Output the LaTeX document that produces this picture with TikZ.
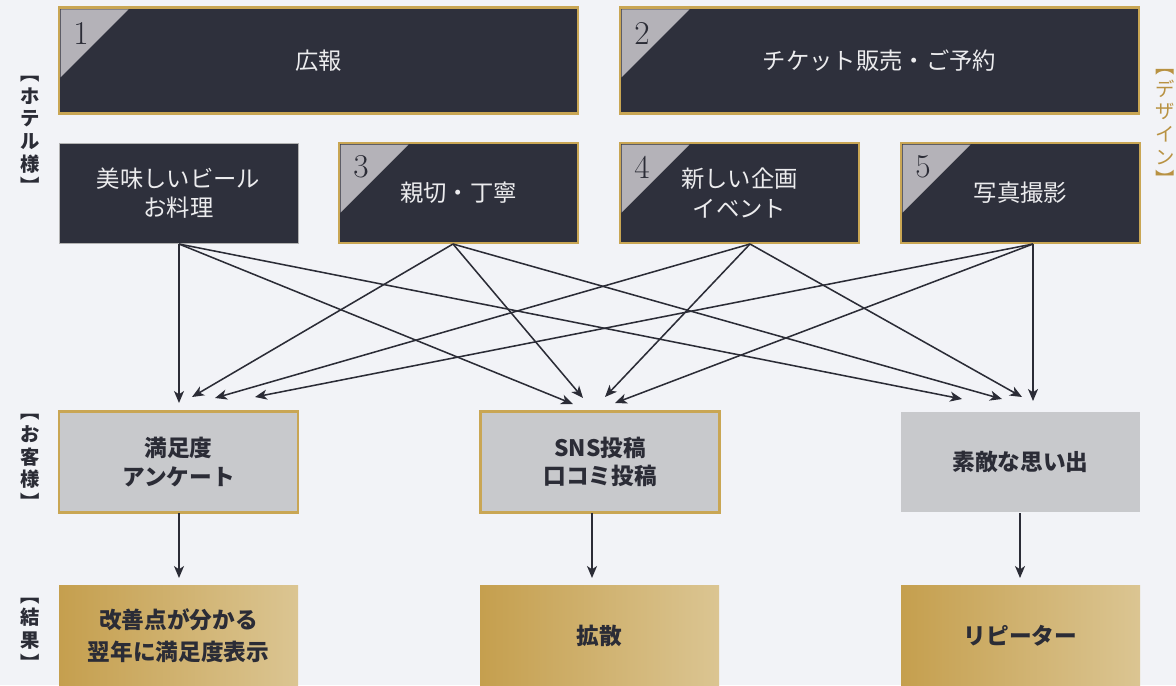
\documentclass[tikz,border=0pt]{standalone}
\usepackage{fontspec}
\newfontfamily\jp{Noto Sans CJK JP}
\usetikzlibrary{arrows.meta}

\definecolor{navy}{RGB}{46,48,60}
\definecolor{gold}{RGB}{201,166,84}
\definecolor{goldL}{RGB}{197,159,78}
\definecolor{goldR}{RGB}{219,197,146}
\definecolor{grayfill}{RGB}{200,201,204}
\definecolor{tri}{RGB}{180,178,184}
\definecolor{ink}{RGB}{43,44,54}
\definecolor{bg}{RGB}{242,243,247}
\definecolor{labgold}{RGB}{184,146,66}
\definecolor{whitetext}{RGB}{236,236,238}

\begin{document}
\begin{tikzpicture}[x=0.75pt,y=-0.75pt,
 box/.style={rectangle, inner sep=0pt, outer sep=0pt, minimum width=179.25pt, minimum height=75pt, align=center, font=\jp\fontsize{17.5}{22}\selectfont},
 widebox/.style={box, minimum width=389.25pt, minimum height=79pt},
 darkbox/.style={fill=navy, text=whitetext},
 goldframe/.style={draw=gold, line width=2pt},
 plainframe/.style={draw=gray!60, line width=0.6pt},
 graybox/.style={fill=grayfill, text=ink, font=\jp\bfseries\fontsize{17}{21.5}\selectfont},
 resbox/.style={left color=goldL, right color=goldR, text=ink, font=\jp\bfseries\fontsize{17}{24}\selectfont},
 corner/.style={fill=tri},
 numlbl/.style={text=ink, font=\fontsize{25}{25}\selectfont, inner sep=0pt},
 vlabel/.style={align=center, inner sep=0pt, text=ink, font=\jp\bfseries\fontsize{14.5}{17}\selectfont},
 link/.style={draw=ink, line width=1.15pt, -{Stealth[length=9pt,width=7.5pt,inset=2.5pt]}},
]
\fill[bg] (0,0) rectangle (1176,685);
\useasboundingbox (0,0) rectangle (1176,685);

% top row
\node (b1) [widebox, darkbox, goldframe] at (318.5,60.5) {広報};
\node (b2) [widebox, darkbox, goldframe] at (879.5,60.5) {チケット販売・ご予約};
% second row
\node (bA) [box, darkbox, plainframe] at (178.5,193) {美味しいビール\\お料理};
\node (b3) [box, darkbox, goldframe] at (458.5,193) {親切・丁寧};
\node (b4) [box, darkbox, goldframe] at (739.5,193) {新しい企画\\イベント};
\node (b5) [box, darkbox, goldframe] at (1020.5,193) {写真撮影};

% corner triangles and numbers
\foreach \b in {b1,b2,b3,b4,b5}{
  \fill[corner] ([shift={(1.5,1.5)}]\b.north west) -- ++(68,0) -- ++(-68,68) -- cycle;
}
\node (n1) [numlbl] at (81,33) {1};
\node (n2) [numlbl] at (642,33) {2};
\node (n3) [numlbl] at (361,167) {3};
\node (n4) [numlbl] at (642,167) {4};
\node (n5) [numlbl] at (923,167) {5};

% middle row
\node (m1) [box, graybox, goldframe, minimum height=75.5pt] at (178.5,462) {満足度\\アンケート};
\node (m2) [box, graybox, goldframe, minimum height=75.5pt] at (600,462) {SNS投稿\\口コミ投稿};
\node (m3) [box, graybox, minimum height=75.5pt] at (1020.5,462) {素敵な思い出};

% bottom row
\node (r1) [box, resbox, minimum height=76pt] at (178.5,636) {改善点が分かる\\翌年に満足度表示};
\node (r2) [box, resbox, minimum height=76pt] at (599.5,636) {拡散};
\node (r3) [box, resbox, minimum height=76pt] at (1020.5,636) {リピーター};

% side labels
\node (lh) [vlabel] at (30,135) {︻\\ホ\\テ\\ル\\様\\︼};
\node (lc) [vlabel] at (30,462) {︻\\お\\客\\様\\︼};
\node (lr) [vlabel] at (30,634) {︻\\結\\果\\︼};
\node (ld) [vlabel, text=labgold, font=\jp\fontsize{14.5}{17}\selectfont] at (1165,128) {︻\\デ\\ザ\\イ\\ン\\︼};

% connector end points
\coordinate (sA) at (179,244);
\coordinate (s3) at (453,244);
\coordinate (s4) at (750,244);
\coordinate (s5) at (1033,244);

\coordinate (tA1) at (179,403);
\coordinate (tA2) at (573,404);
\coordinate (tA3) at (962,399);
\coordinate (t31) at (192,397);
\coordinate (t32) at (583,398);
\coordinate (t33) at (1002,399);
\coordinate (t41) at (215,398);
\coordinate (t42) at (605,397);
\coordinate (t43) at (1022,397);
\coordinate (t51) at (255,397);
\coordinate (t52) at (615,403);
\coordinate (t53) at (1033,401);

\draw[link] (sA) -- (tA1);
\draw[link] (sA) -- (tA2);
\draw[link] (sA) -- (tA3);
\draw[link] (s3) -- (t31);
\draw[link] (s3) -- (t32);
\draw[link] (s3) -- (t33);
\draw[link] (s4) -- (t41);
\draw[link] (s4) -- (t42);
\draw[link] (s4) -- (t43);
\draw[link] (s5) -- (t51);
\draw[link] (s5) -- (t52);
\draw[link] (s5) -- (t53);

% down arrows
\coordinate (d1s) at (179,513);
\coordinate (d1e) at (179,578);
\coordinate (d2s) at (592,513);
\coordinate (d2e) at (592,578);
\coordinate (d3s) at (1020,513);
\coordinate (d3e) at (1020,578);
\draw[link] (d1s) -- (d1e);
\draw[link] (d2s) -- (d2e);
\draw[link] (d3s) -- (d3e);
\end{tikzpicture}
\end{document}
